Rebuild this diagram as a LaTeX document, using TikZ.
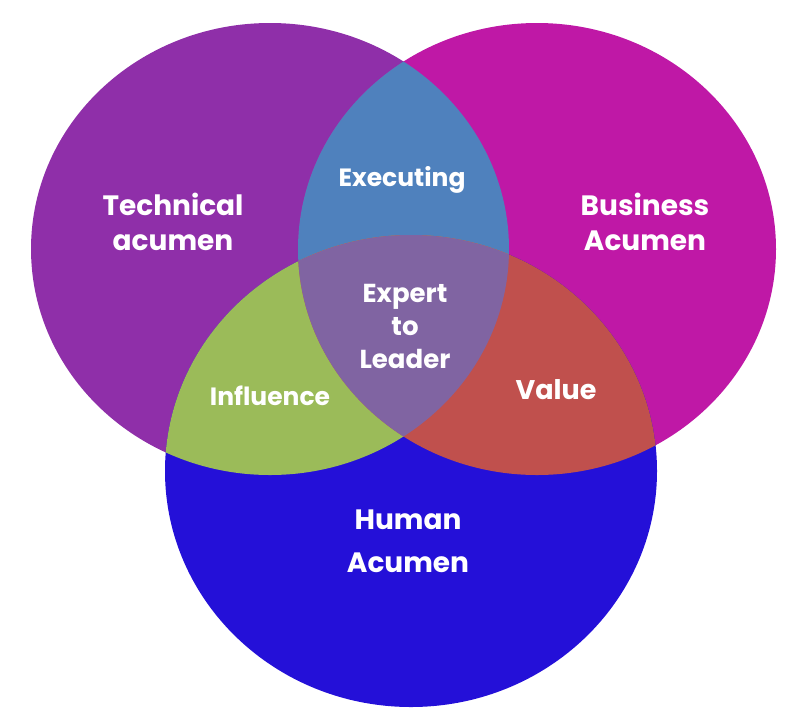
\documentclass[tikz,border=0pt]{standalone}
\usepackage{fontspec}
\setmainfont{Poppins}
\usetikzlibrary{positioning}

\definecolor{techPurple}{HTML}{8F2FA9}
\definecolor{bizMagenta}{HTML}{BF18A6}
\definecolor{humanBlue}{HTML}{2410D8}
\definecolor{execBlue}{HTML}{4F81BD}
\definecolor{inflGreen}{HTML}{9BBB59}
\definecolor{valueRed}{HTML}{C0504D}
\definecolor{expertViolet}{HTML}{8064A2}

% the three sets
\newcommand\techShape{(270,249) ellipse [x radius=239pt, y radius=226pt]}
\newcommand\bizShape{(537,249) ellipse [x radius=239pt, y radius=226pt]}
\newcommand\humanShape{(411,471) ellipse [x radius=246pt, y radius=236pt]}

\tikzset{
  setlbl/.style={text=white, align=center, inner sep=0pt,
    font=\bfseries\fontsize{28}{35}\selectfont},
  cutlbl/.style={setlbl, font=\bfseries\fontsize{25}{33}\selectfont},
}

\begin{document}
\begin{tikzpicture}[x=1pt, y=-1pt]
  \useasboundingbox (0,0) rectangle (803,721);

  \fill[techPurple] \techShape;
  \fill[bizMagenta] \bizShape;
  \fill[humanBlue] \humanShape;

  % pairwise overlaps
  \begin{scope}
    \clip \techShape;
    \fill[execBlue] \bizShape;
  \end{scope}
  \begin{scope}
    \clip \techShape;
    \fill[inflGreen] \humanShape;
  \end{scope}
  \begin{scope}
    \clip \bizShape;
    \fill[valueRed] \humanShape;
  \end{scope}
  % centre
  \begin{scope}
    \clip \techShape;
    \clip \bizShape;
    \fill[expertViolet] \humanShape;
  \end{scope}

  \node[setlbl] (tech) at (173,222) {Technical\\acumen};
  \node[setlbl] (biz) at (645,222) {Business\\Acumen};
  \node[setlbl, font=\bfseries\fontsize{28}{43}\selectfont] (human) at (408,541)
    {Human\\Acumen};

  \node[cutlbl] (exec) at (402,180) {Executing};
  \node[cutlbl, font=\bfseries\fontsize{26}{33}\selectfont] (expert) at (405,326)
    {Expert\\to\\Leader};
  \node[cutlbl] (infl) at (270,396) {Influence};
  \node[cutlbl, font=\bfseries\fontsize{27}{33}\selectfont] (value) at (556,390)
    {Value};

\end{tikzpicture}
\end{document}
